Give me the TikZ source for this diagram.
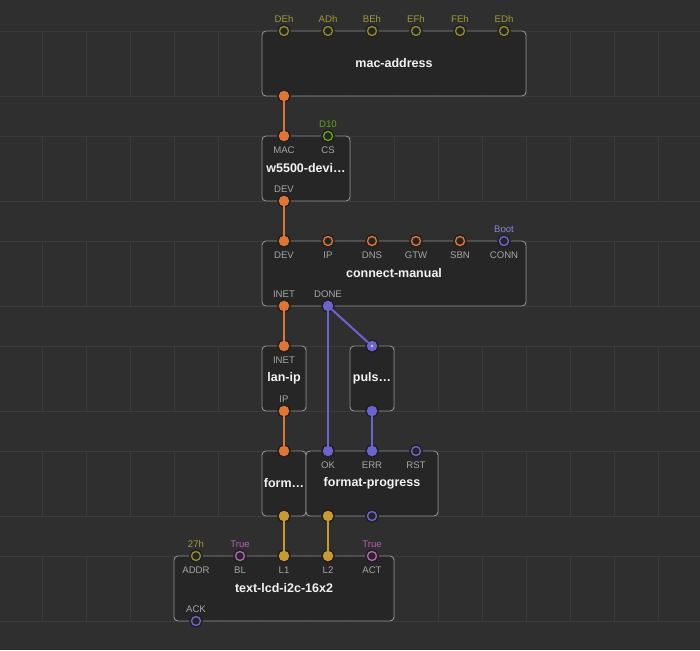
\documentclass[tikz,border=0pt]{standalone}
\usepackage{fontspec}
\setmainfont{Liberation Sans}
\usepackage{xcolor}

\definecolor{canvas}{HTML}{2F2F2F}
\definecolor{gridcol}{HTML}{3B3B3B}
\definecolor{nodefill}{HTML}{252525}
\definecolor{nodeline}{HTML}{8E8E8E}
\definecolor{titlecol}{HTML}{F2F2F2}
\definecolor{lblgrey}{HTML}{A6A6A6}
\definecolor{pinshade}{HTML}{1F1F1F}
\definecolor{orng}{HTML}{E07434}
\definecolor{pulse}{HTML}{6C64CC}
\definecolor{strg}{HTML}{C99B2E}
\definecolor{bytecol}{HTML}{8E8A2C}
\definecolor{bytetxt}{HTML}{A29A38}
\definecolor{digit}{HTML}{62A01C}
\definecolor{boolc}{HTML}{B25FB5}
\definecolor{dotlight}{HTML}{C8C4F4}

\begin{document}
\begin{tikzpicture}[
    x=1pt, y=-1pt,
    gridline/.style={draw=gridcol, line width=0.8pt},
    patch/.style={draw=nodeline, fill=nodefill, fill opacity=0.85, text opacity=1, rounded corners=4pt, line width=0.9pt, inner sep=0pt, minimum height=65pt, text=titlecol, font=\fontsize{12.5}{14}\selectfont\bfseries},
    pinbase/.style={circle, inner sep=0pt, minimum size=9pt, line width=1.4pt, preaction={draw=pinshade, line width=4.4pt}},
    pinf/.style={pinbase, fill=#1, draw=#1},
    pinh/.style={pinbase, fill=nodefill, draw=#1},
    pinlbl/.style={text=lblgrey, font=\fontsize{9.6}{11}\selectfont, inner sep=0pt, text height=6.9pt, text depth=0pt},
    under/.style={label={[pinlbl, label distance=5.3pt]below:#1}},
    over/.style={label={[pinlbl, label distance=3.3pt]above:#1}},
    val/.style 2 args={label={[pinlbl, text=#1, label distance=3.3pt]above:#2}},
    link/.style={draw=#1, line width=2pt}
]
% Canvas and grid
\useasboundingbox (0,0) rectangle (700,650);
\fill[canvas] (0,0) rectangle (700,650);
\foreach \y in {31,96,136,201,241,306,346,411,451,516,556,621}
    \draw[gridline] (0,\y) -- (700,\y);
\foreach \t in {31,136,241,346,451,556}
    \foreach \x in {-1.5,42.5,...,702.5}
        \draw[gridline] (\x,\t) -- (\x,\t+65);

% Patch nodes
\node[patch, minimum width=264pt] (mac) at (394,63.5) {mac-address};
\node[patch, minimum width=88pt] (dev) at (306,168.5) {\raisebox{-1pt}{w5500-devi…}};
\node[patch, minimum width=264pt] (conn) at (394,273.5) {connect-manual};
\node[patch, minimum width=44pt] (lan) at (284,378.5) {lan-ip};
\node[patch, minimum width=44pt] (puls) at (372,378.5) {puls…};
\node[patch, minimum width=44pt] (fmt) at (284,483.5) {form…};
\node[patch, minimum width=132pt] (fprog) at (372,483.5) {format-progress};
\node[patch, minimum width=220pt] (lcd) at (284,588.5) {text-lcd-i2c-16x2};

% mac-address pins
\foreach \v [count=\i] in {DEh,ADh,BEh,EFh,FEh,EDh}
    \node[pinh=bytecol, val={bytetxt}{\v}] (mac-i\i) at ({240+44*\i},31) {};
\node[pinf=orng] (mac-out) at (284,96) {};

% w5500-device pins
\node[pinf=orng, under=MAC] (dev-mac) at (284,136) {};
\node[pinh=digit, under=CS, val={digit}{D10}] (dev-cs) at (328,136) {};
\node[pinf=orng, over=DEV] (dev-dev) at (284,201) {};

% connect-manual pins
\node[pinf=orng, under=DEV] (conn-dev) at (284,241) {};
\node[pinh=orng, under=IP] (conn-ip) at (328,241) {};
\node[pinh=orng, under=DNS] (conn-dns) at (372,241) {};
\node[pinh=orng, under=GTW] (conn-gtw) at (416,241) {};
\node[pinh=orng, under=SBN] (conn-sbn) at (460,241) {};
\node[pinh=pulse, under=CONN, val={pulse!80!white}{Boot}] (conn-conn) at (504,241) {};
\node[pinf=orng, over=INET] (conn-inet) at (284,306) {};
\node[pinf=pulse, over=DONE] (conn-done) at (328,306) {};

% lan-ip and pulse pins
\node[pinf=orng, under=INET] (lan-inet) at (284,346) {};
\node[pinf=orng, over=IP] (lan-ip) at (284,411) {};
\node[pinf=pulse] (puls-in) at (372,346) {};
\fill[dotlight] (puls-in) circle (1.4pt);
\node[pinf=pulse] (puls-out) at (372,411) {};

% format pins
\node[pinf=orng] (fmt-in) at (284,451) {};
\node[pinf=strg] (fmt-out) at (284,516) {};
\node[pinf=pulse, under=OK] (fp-ok) at (328,451) {};
\node[pinf=pulse, under=ERR] (fp-err) at (372,451) {};
\node[pinh=pulse, under=RST] (fp-rst) at (416,451) {};
\node[pinf=strg] (fp-out) at (328,516) {};
\node[pinh=pulse] (fp-done) at (372,516) {};

% text-lcd pins
\node[pinh=bytecol, under=ADDR, val={bytetxt}{27h}] (lcd-addr) at (196,556) {};
\node[pinh=boolc, under=BL, val={boolc}{True}] (lcd-bl) at (240,556) {};
\node[pinf=strg, under=L1] (lcd-l1) at (284,556) {};
\node[pinf=strg, under=L2] (lcd-l2) at (328,556) {};
\node[pinh=boolc, under=ACT, val={boolc}{True}] (lcd-act) at (372,556) {};
\node[pinh=pulse, over=ACK] (lcd-ack) at (196,621) {};

% Links
\draw[link=orng] (mac-out) -- (dev-mac);
\draw[link=orng] (dev-dev) -- (conn-dev);
\draw[link=orng] (conn-inet) -- (lan-inet);
\draw[link=orng] (lan-ip) -- (fmt-in);
\draw[link=pulse] (conn-done) -- (fp-ok);
\draw[link=pulse] (conn-done) -- (puls-in);
\draw[link=pulse] (puls-out) -- (fp-err);
\draw[link=strg] (fmt-out) -- (lcd-l1);
\draw[link=strg] (fp-out) -- (lcd-l2);
\end{tikzpicture}
\end{document}
